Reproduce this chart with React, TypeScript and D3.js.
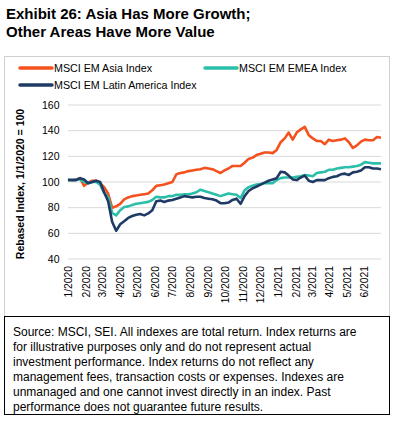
import React from "react";
import * as d3 from "d3";

const startDate = new Date(2020, 0, 1);
// weekly observations starting 1/1/2020
const asia = [101, 101.5, 102, 103, 97, 99.5, 101, 101, 99, 96, 91, 80, 81, 83, 86.5, 88, 89, 89.5, 90, 90.5, 91, 93.5, 97, 97.5, 98, 99, 100, 106, 107, 107.5, 108.5, 109, 109.5, 110, 111, 110.5, 110, 108.5, 107, 109, 110.5, 112.5, 112.5, 112.5, 115, 118, 119, 121, 122, 123, 123, 122.5, 125, 131, 134, 138.5, 133, 138.5, 141, 143, 136.5, 134, 132, 132, 129.5, 133, 132, 132.5, 133, 134, 131, 126.5, 128.5, 131.5, 133, 132.5, 132.5, 135, 134.5];
const emea = [101, 101.5, 102, 102, 100, 99, 100, 100, 98, 91.5, 88, 76, 74, 78, 80.5, 81, 82, 83, 83.5, 84, 84.5, 86, 88.5, 88, 88, 89, 89, 90, 90, 90.5, 90.5, 91, 92, 94, 93, 92, 91, 90, 89, 90, 91, 90.5, 90, 87.5, 93.5, 96, 97, 98, 98.5, 99, 99, 99, 101.5, 103, 103.5, 103.5, 103.5, 104, 104.5, 105.5, 105, 104.5, 107, 107.5, 108, 109.5, 109.5, 110.5, 111, 111.5, 111.5, 112, 112.5, 113.5, 115.5, 115, 114.5, 114.5, 114.5];
const latam = [102, 101.5, 101.5, 103, 102, 99, 100, 101, 100, 92, 85, 69, 62, 67, 69.5, 72, 73.5, 74.5, 75, 74, 75.5, 78, 85, 85.5, 84.5, 85.5, 86, 87, 88, 89, 88.5, 88, 88.5, 88.5, 87.5, 87, 86.5, 85.5, 83.5, 83.5, 84, 86, 87, 83, 89, 93, 95, 96.5, 98, 99.5, 101, 102, 103, 108, 107.5, 105, 102, 101.5, 103.5, 105, 101, 100, 101.5, 101.5, 101.5, 103, 104, 104.5, 106, 106.5, 105.5, 107.5, 108, 109, 111.5, 111.5, 110.5, 110.5, 110];

const yTicks = [40, 60, 80, 100, 120, 140, 160];
const monthLabels = ["1/2020", "2/2020", "3/2020", "4/2020", "5/2020", "6/2020", "7/2020", "8/2020", "9/2020", "10/2020", "11/2020", "12/2020", "1/2021", "2/2021", "3/2021", "4/2021", "5/2021", "6/2021"];
const seriesNames = ["MSCI EM Asia Index", "MSCI EM EMEA Index", "MSCI EM Latin America Index"];
const colors = ["#F4511E", "#2BBFAA", "#1F3A64"];
const footnote = [
  "Source: MSCI, SEI. All indexes are total return. Index returns are",
  "for illustrative purposes only and do not represent actual",
  "investment performance. Index returns do not reflect any",
  "management fees, transaction costs or expenses. Indexes are",
  "unmanaged and one cannot invest directly in an index. Past",
  "performance does not guarantee future results.",
];

const FONT = "'Liberation Sans', Arial, sans-serif";

export default function App() {
  const dates = asia.map((_, i) => d3.timeDay.offset(startDate, i * 7));
  const x = d3.scaleTime().domain([startDate, new Date(2021, 5, 30)]).range([68, 381]);
  const y = d3.scaleLinear().domain([40, 160]).range([259, 105]);
  const line = d3
    .line<number>()
    .x((_, i) => x(dates[i]))
    .y((v) => y(v))
    .curve(d3.curveLinear);
  const series = [asia, emea, latam];
  const months = monthLabels.map((_, i) => new Date(2020, i, 1));
  const legendPos = [
    { x: 20, y: 68 },
    { x: 205, y: 68 },
    { x: 20, y: 85 },
  ];

  return (
    <svg width={404} height={423} style={{ position: "absolute", left: 0, top: 0 }} fontFamily={FONT}>
      <rect x={0} y={0} width={404} height={423} fill="#fff" />
      <text x={6} y={18.5} fontSize={15} fontWeight="bold" fill="#000">
        Exhibit 26: Asia Has More Growth;
      </text>
      <text x={6} y={36.5} fontSize={15} fontWeight="bold" fill="#000">
        Other Areas Have More Value
      </text>
      <rect x={4.5} y={56.5} width={385} height={260} fill="none" stroke="#d0d0d0" strokeWidth={1} />

      {seriesNames.map((name, i) => (
        <g key={name}>
          <line
            x1={legendPos[i].x}
            x2={legendPos[i].x + 32}
            y1={legendPos[i].y}
            y2={legendPos[i].y}
            stroke={colors[i]}
            strokeWidth={3.5}
            strokeLinecap="round"
          />
          <text x={legendPos[i].x + 34} y={legendPos[i].y + 4} fontSize={10.7} fill="#000">
            {name}
          </text>
        </g>
      ))}

      {yTicks.map((t) => (
        <g key={t}>
          <line x1={68} x2={381} y1={y(t)} y2={y(t)} stroke="#d9d9d9" strokeWidth={1} />
          <text x={59.5} y={y(t) + 3.7} fontSize={10.5} textAnchor="end" fill="#000">
            {t}
          </text>
        </g>
      ))}

      <text
        transform="translate(24,184) rotate(-90)"
        fontSize={10.5}
        fontWeight="bold"
        textAnchor="middle"
        fill="#000"
      >
        Rebased Index, 1/1/2020 = 100
      </text>

      {months.map((m, i) => (
        <text
          key={monthLabels[i]}
          transform={`translate(${x(m) + 4},266) rotate(-90)`}
          fontSize={10.3}
          textAnchor="end"
          fill="#000"
        >
          {monthLabels[i]}
        </text>
      ))}

      {series.map((s, i) => (
        <path
          key={seriesNames[i]}
          d={line(s) || ""}
          fill="none"
          stroke={colors[i]}
          strokeWidth={2.6}
          strokeLinejoin="round"
        />
      ))}

      <rect x={4.5} y={316.5} width={385} height={98} fill="#fff" stroke="#000" strokeWidth={1} />
      {footnote.map((l, i) => (
        <text key={i} x={13} y={336 + i * 14.9} fontSize={12} fill="#000">
          {l}
        </text>
      ))}
    </svg>
  );
}
